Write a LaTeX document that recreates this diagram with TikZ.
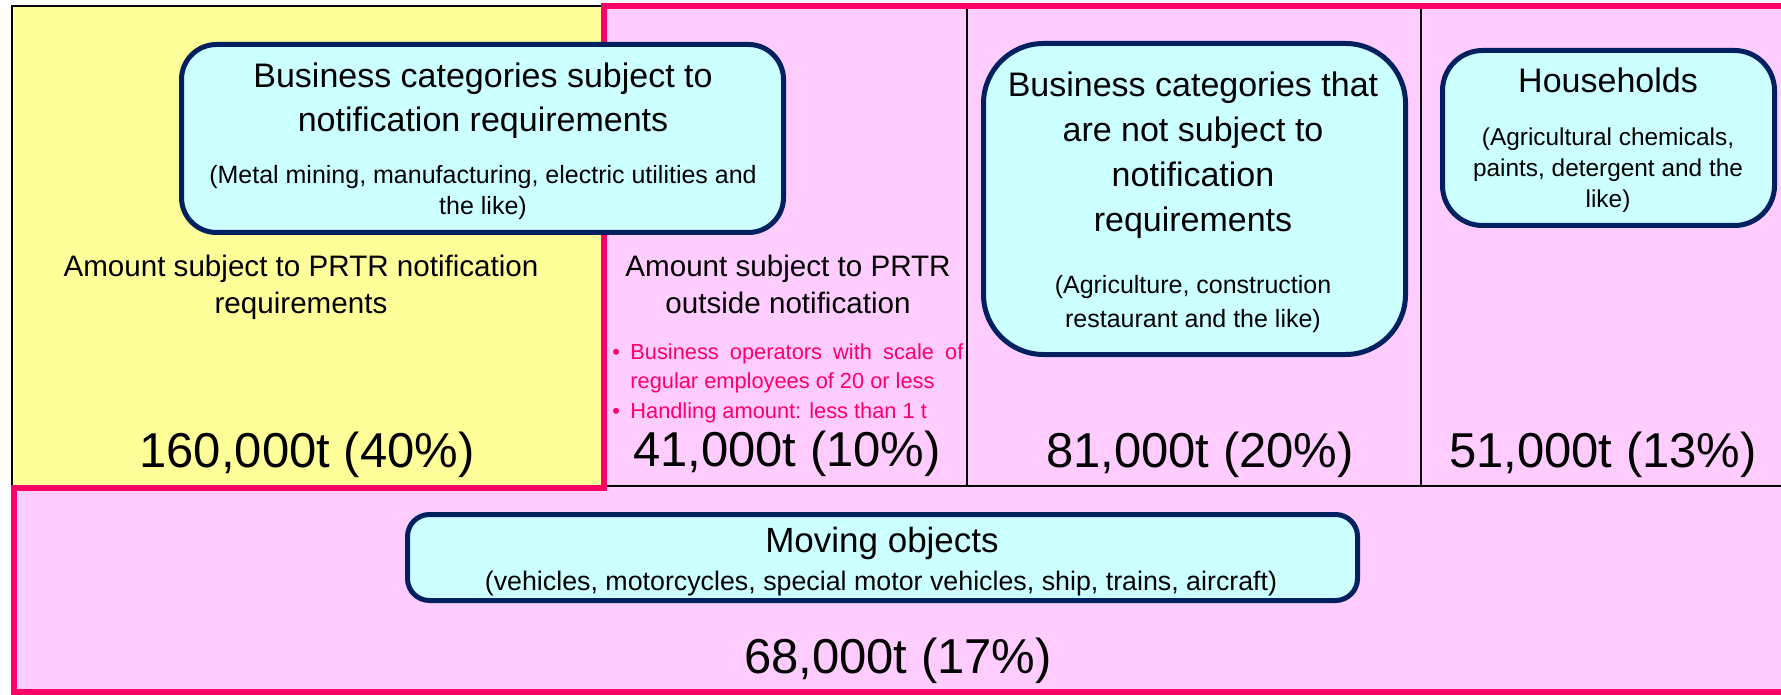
\documentclass[tikz,border=0pt]{standalone}
\usepackage{fontspec}
\setmainfont{Liberation Sans}
\definecolor{yel}{HTML}{FFFF99}
\definecolor{pinkbg}{HTML}{FFCCFF}
\definecolor{cyanbg}{HTML}{CCFFFF}
\definecolor{navy}{HTML}{002060}
\definecolor{hotpink}{HTML}{FF0066}
\newcommand{\fs}[2]{\fontsize{#1}{#2}\selectfont}
\begin{document}
\begin{tikzpicture}[x=0.5pt,y=-0.5pt,
  box/.style={draw=navy, line width=2.5pt, fill=cyanbg, rounded corners=#1, inner sep=0pt},
  lbl/.style={anchor=base, align=center, inner sep=0pt, text=black},
  big/.style={lbl, font=\fs{24.5pt}{29pt}},
  ttl/.style={lbl, font=\fs{17pt}{22pt}},
  sub/.style={lbl, font=\fs{12.5pt}{16pt}},
  amt/.style={lbl, font=\fs{14.8pt}{18.5pt}},
  divider/.style={draw=black, line width=1pt},
  pinkline/.style={draw=hotpink, line width=3pt}]
\useasboundingbox (0,0) rectangle (1781,695);
\clip (0,0) rectangle (1781,695);
% pink region
\fill[pinkbg] (1800,6.5) -- (604,6.5) -- (604,488) -- (13.5,488) -- (13.5,692) -- (1800,692) -- cycle;
% yellow region
\filldraw[fill=yel, draw=black, line width=1pt] (11.5,6) rectangle (603,486);
% dividers
\draw[divider] (604,486) -- (1800,486);
\draw[divider] (967,8) -- (967,486);
\draw[divider] (1421,8) -- (1421,486);
% pink outline
\draw[pinkline] (1800,6.5) -- (604,6.5) -- (604,488) -- (13.5,488) -- (13.5,692) -- (1800,692);
% boxes
\node[box=17.5pt, minimum width=301pt, minimum height=94pt] (b1) at (482.5,138.5) {};
\node[box=30pt, minimum width=211pt, minimum height=155.5pt] (b3) at (1194.5,199) {};
\node[box=20pt, minimum width=166pt, minimum height=87.5pt] (b4) at (1608.5,138) {};
\node[box=11pt, minimum width=475pt, minimum height=43pt] (b5) at (882.5,557.5) {};
% box texts (anchor=base of a multi-line node is the last line's baseline)
\node[ttl] (b1t) at (483,132) {Business categories subject to\\notification requirements};
\node[sub] (b1s) at (483,215) {(Metal mining, manufacturing, electric utilities and\\the like)};
\node[ttl, font=\fs{17pt}{22.5pt}] (b3t) at (1193,232) {Business categories that\\are not subject to\\notification\\requirements};
\node[sub, font=\fs{12.5pt}{17pt}] (b3s) at (1193,327) {(Agriculture, construction\\restaurant and the like)};
\node[ttl] (b4t) at (1608,93) {Households};
\node[sub, font=\fs{12.2pt}{15.75pt}] (b4s) at (1608,208) {(Agricultural chemicals,\\paints, detergent and the\\like)};
\node[ttl, font=\fs{17.5pt}{22pt}] (b5t) at (882,552) {Moving objects};
\node[sub, font=\fs{13.4pt}{16pt}] (b5s) at (881,590) {(vehicles, motorcycles, special motor vehicles, ship, trains, aircraft)};
% amount labels
\node[amt] (a1) at (301,313) {Amount subject to PRTR notification\\requirements};
\node[amt] (a2) at (788,313) {Amount subject to PRTR\\outside notification};
\node[anchor=base west, align=left, inner sep=0pt, text=hotpink, font=\fs{10.9pt}{14.75pt}] (bul) at (612,418)
  {\makebox[9pt][l]{\textbullet}\hbox to 166.5pt{Business operators with scale of}\\
   \makebox[9pt][l]{}regular employees of 20 or less\\
   \makebox[9pt][l]{\textbullet}Handling amount: less than 1 t};
% numbers
\node[big] (n1) at (307,467) {160,000t (40\%)};
\node[big] (n2) at (787,466) {41,000t (10\%)};
\node[big] (n3) at (1200,467) {81,000t (20\%)};
\node[big] (n4) at (1603,467) {51,000t (13\%)};
\node[big] (n5) at (898,673) {68,000t (17\%)};
\end{tikzpicture}
\end{document}
